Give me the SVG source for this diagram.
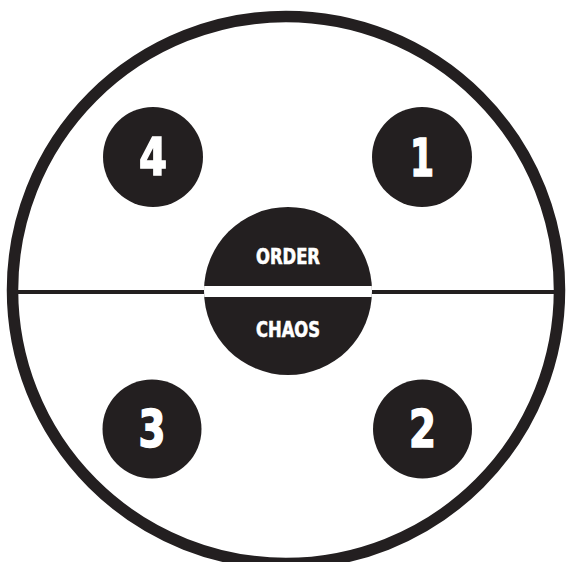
<svg xmlns="http://www.w3.org/2000/svg" width="566" height="562" viewBox="0 0 566 562">
<defs>
<style>
.ink{fill:#231f20}
.num{fill:#fff;stroke:#fff;stroke-width:1.5;font-family:"DejaVu Sans Condensed","DejaVu Sans",sans-serif;font-weight:bold;font-size:52px;text-anchor:middle}
.lbl{fill:#fff;stroke:#fff;stroke-width:0.6;font-family:"DejaVu Sans Condensed","DejaVu Sans",sans-serif;font-weight:bold;font-size:21px;text-anchor:middle}
</style>
<clipPath id="cc"><circle cx="288" cy="291" r="84"/></clipPath>
</defs>
<rect width="566" height="562" fill="#fff"/>
<g id="outer">
<circle cx="286" cy="290" r="273.5" fill="none" stroke="#231f20" stroke-width="11.5"/>
</g>
<g id="connectors">
<line x1="10" y1="292" x2="206" y2="292" stroke="#231f20" stroke-width="4"/>
<line x1="370" y1="292" x2="562" y2="292" stroke="#231f20" stroke-width="4"/>
</g>
<g id="center">
<circle class="ink" cx="288" cy="291" r="84"/>
<rect x="200" y="286" width="176" height="11" fill="#fff" clip-path="url(#cc)"/>
<text class="lbl" x="288" y="264" textLength="64" lengthAdjust="spacingAndGlyphs">ORDER</text>
<text class="lbl" x="288" y="337" textLength="64" lengthAdjust="spacingAndGlyphs">CHAOS</text>
</g>
<g id="n4">
<circle class="ink" cx="153" cy="157" r="50"/>
<text class="num" x="153" y="175" textLength="28" lengthAdjust="spacingAndGlyphs">4</text>
</g>
<g id="n1">
<circle class="ink" cx="422" cy="157" r="50"/>
<text class="num" x="422" y="176" textLength="24" lengthAdjust="spacingAndGlyphs">1</text>
</g>
<g id="n3">
<circle class="ink" cx="152" cy="429" r="49.5"/>
<text class="num" x="152" y="447" textLength="27" lengthAdjust="spacingAndGlyphs">3</text>
</g>
<g id="n2">
<circle class="ink" cx="422.5" cy="429" r="49.5"/>
<text class="num" x="422.5" y="447" textLength="27" lengthAdjust="spacingAndGlyphs">2</text>
</g>
</svg>
